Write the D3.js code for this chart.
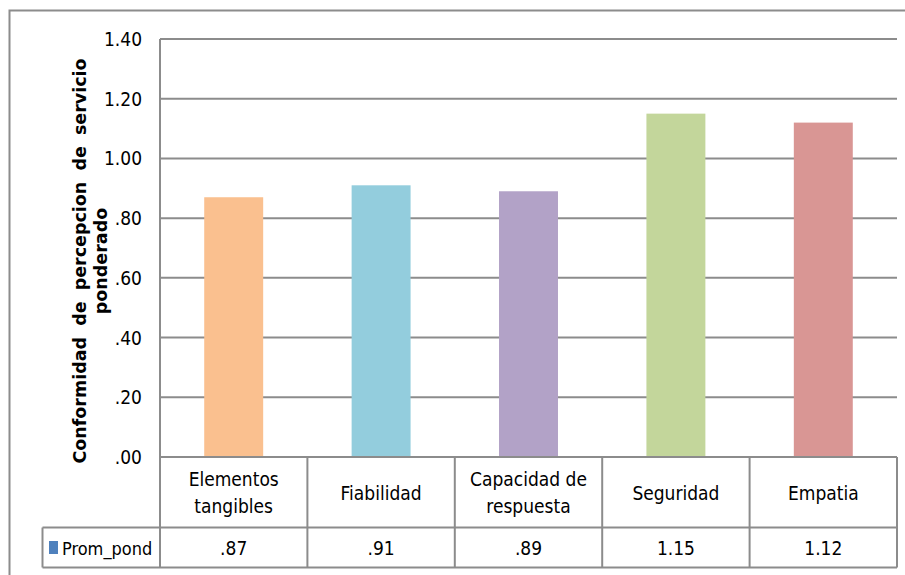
<!DOCTYPE html>
<html>
<head>
<meta charset="utf-8">
<script src="https://cdn.jsdelivr.net/npm/d3@7"></script>
<style>
  body { margin: 0; background: #fff; }
  svg text { font-family: "Liberation Sans Narrow", "DejaVu Sans Condensed", sans-serif; fill: #000; }
</style>
</head>
<body>
<div id="svg-container"></div>
<script>
// data
const categories = [["Elementos", "tangibles"], ["Fiabilidad"], ["Capacidad de", "respuesta"], ["Seguridad"], ["Empatia"]];
const values = [0.87, 0.91, 0.89, 1.15, 1.12];
const valueLabels = [".87", ".91", ".89", "1.15", "1.12"];
const colors = ["#FAC08F", "#93CDDD", "#B2A2C7", "#C3D69B", "#D99694"];
const yTicks = [0, 0.2, 0.4, 0.6, 0.8, 1.0, 1.2, 1.4];
const seriesName = "Prom_pond";

const width = 905, height = 575;
const margin = { top: 39, right: 8, bottom: 118, left: 160 };

const svg = d3.select("#svg-container").append("svg")
  .attr("width", width).attr("height", height);

// outer frame
svg.append("rect")
  .attr("x", 9.5).attr("y", 10.5)
  .attr("width", width).attr("height", height)
  .attr("fill", "none").attr("stroke", "#8c8c8c").attr("stroke-width", 2);

const xScale = d3.scaleBand()
  .domain(d3.range(categories.length))
  .range([margin.left, width - margin.right])
  .paddingInner(0).paddingOuter(0);

const yScale = d3.scaleLinear()
  .domain([0, 1.4])
  .range([height - margin.bottom, margin.top]);

// gridlines
svg.append("g")
  .selectAll("line")
  .data(yTicks)
  .join("line")
  .attr("x1", margin.left).attr("x2", width - margin.right)
  .attr("y1", d => yScale(d)).attr("y2", d => yScale(d))
  .attr("stroke", "#8c8c8c").attr("stroke-width", 2);

// y axis line
svg.append("line")
  .attr("x1", margin.left).attr("x2", margin.left)
  .attr("y1", margin.top).attr("y2", yScale(0))
  .attr("stroke", "#8c8c8c").attr("stroke-width", 2);

// y tick labels
svg.append("g")
  .selectAll("text")
  .data(yTicks)
  .join("text")
  .attr("x", 142)
  .attr("y", d => yScale(d) + 7)
  .attr("text-anchor", "end")
  .style("font-size", "19px")
  .text(d => d === 0 ? ".00" : (d < 1 ? d3.format(".2f")(d).replace(/^0/, "") : d3.format(".2f")(d)));

// bars
const barW = xScale.bandwidth() * 0.4;
svg.append("g")
  .selectAll("rect")
  .data(values)
  .join("rect")
  .attr("x", (d, i) => xScale(i) + (xScale.bandwidth() - barW) / 2)
  .attr("y", d => yScale(d))
  .attr("width", barW)
  .attr("height", d => yScale(0) - yScale(d))
  .attr("fill", (d, i) => colors[i]);

// data table
const rowTop = yScale(0), rowMid = 527.5, rowBot = 567.5;
const legendLeft = 42.5;
const tbl = svg.append("g").attr("stroke", "#8c8c8c").attr("stroke-width", 2);
tbl.append("line").attr("x1", margin.left).attr("x2", width - margin.right).attr("y1", rowTop).attr("y2", rowTop);
tbl.append("line").attr("x1", legendLeft).attr("x2", width - margin.right).attr("y1", rowMid).attr("y2", rowMid);
tbl.append("line").attr("x1", legendLeft).attr("x2", width - margin.right).attr("y1", rowBot).attr("y2", rowBot);
tbl.append("line").attr("x1", legendLeft).attr("x2", legendLeft).attr("y1", rowMid).attr("y2", rowBot);
tbl.selectAll(".v")
  .data(d3.range(categories.length + 1))
  .join("line")
  .attr("x1", i => i < categories.length ? xScale(i) : width - margin.right)
  .attr("x2", i => i < categories.length ? xScale(i) : width - margin.right)
  .attr("y1", rowTop).attr("y2", rowBot);

// category labels
svg.append("g")
  .selectAll("text")
  .data(categories)
  .join("text")
  .attr("x", (d, i) => xScale(i) + xScale.bandwidth() / 2)
  .attr("y", d => d.length === 1 ? 500 : 486)
  .attr("text-anchor", "middle")
  .style("font-size", "19px")
  .selectAll("tspan")
  .data(d => d)
  .join("tspan")
  .attr("x", function () { return this.parentNode.getAttribute("x"); })
  .attr("dy", (d, i) => i === 0 ? 0 : 27)
  .text(d => d);

// value labels
svg.append("g")
  .selectAll("text")
  .data(valueLabels)
  .join("text")
  .attr("x", (d, i) => xScale(i) + xScale.bandwidth() / 2)
  .attr("y", 555)
  .attr("text-anchor", "middle")
  .style("font-size", "19px")
  .text(d => d);

// legend key
svg.append("rect")
  .attr("x", 49).attr("y", 541).attr("width", 9).attr("height", 13)
  .attr("fill", "#4F81BD");
svg.append("text")
  .attr("x", 62).attr("y", 555)
  .style("font-size", "18px")
  .text(seriesName);

// y axis title
const title = svg.append("text")
  .attr("transform", "translate(86,261) rotate(-90)")
  .attr("text-anchor", "middle")
  .style("font-family", "'DejaVu Sans', Verdana, sans-serif")
  .style("font-weight", "bold")
  .style("font-size", "17.5px");
title.append("tspan").attr("x", 0).attr("dy", 0)
  .style("word-spacing", "5px")
  .text("Conformidad de percepcion de servicio");
title.append("tspan").attr("x", 0).attr("dy", 21).text("ponderado");
</script>
</body>
</html>
